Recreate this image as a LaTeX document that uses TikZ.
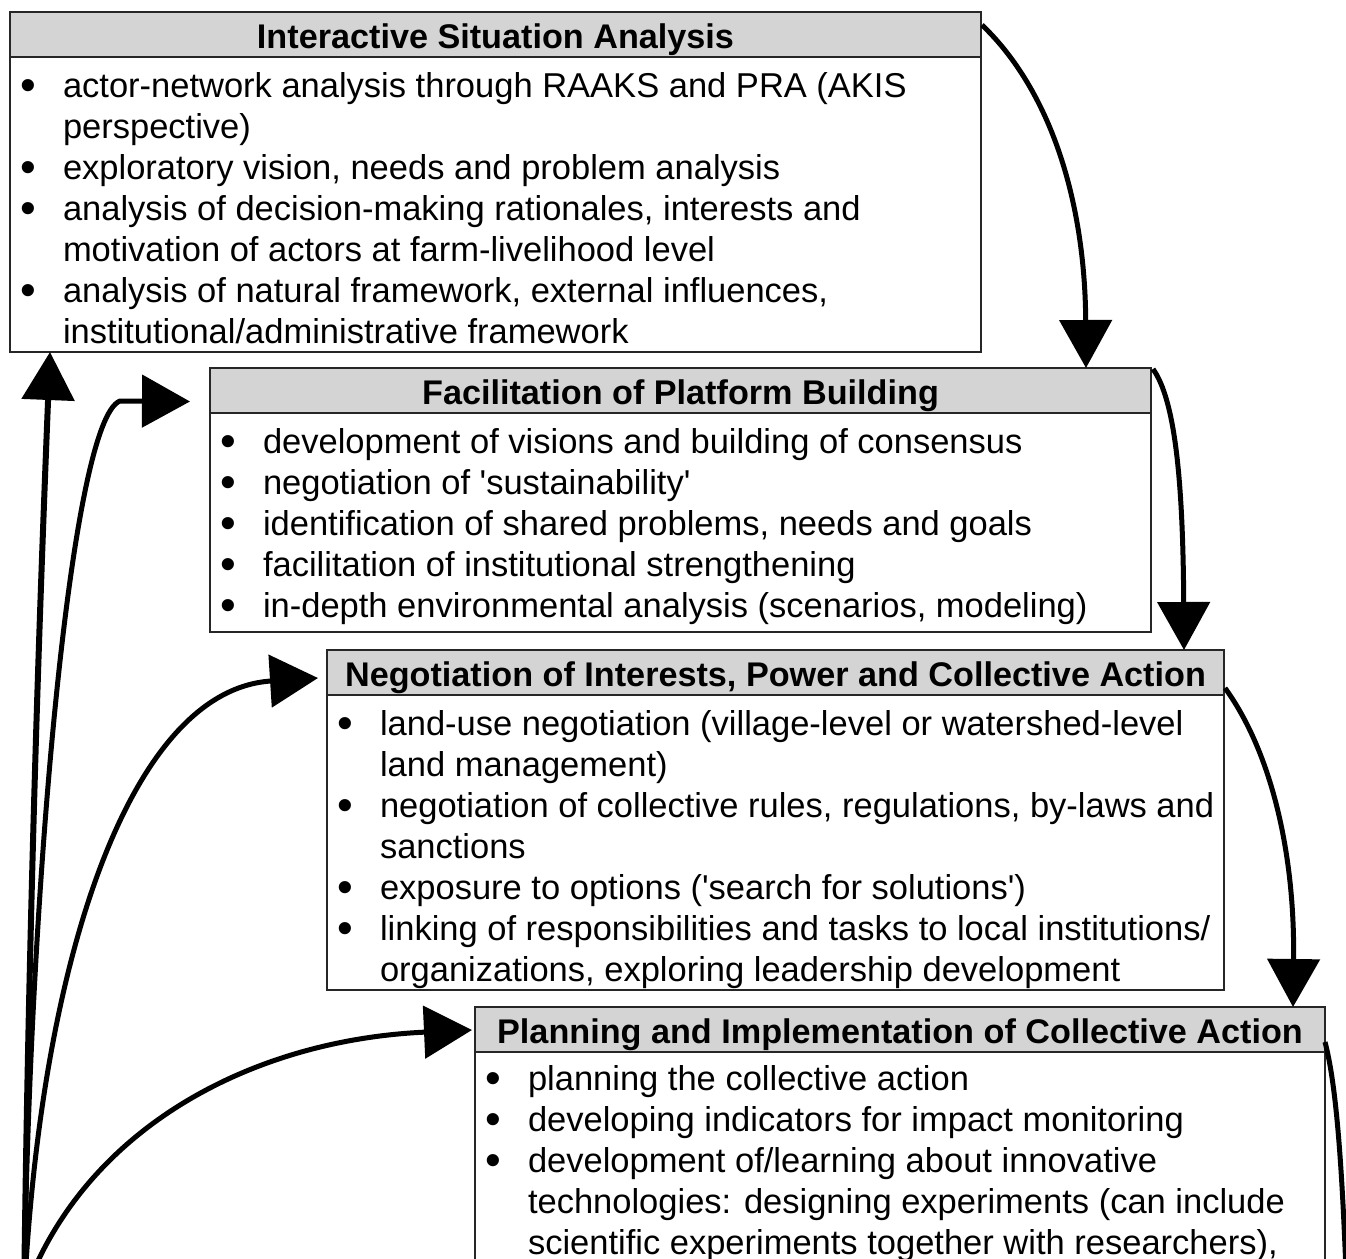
\documentclass[tikz,border=0pt]{standalone}
\usepackage{fontspec}
\newfontfamily\arial{Liberation Sans}
\usetikzlibrary{arrows.meta,calc}
\newcommand{\bodyfont}{\arial\fontsize{17.25pt}{20.5pt}\selectfont}
\newcommand{\headfont}{\arial\bfseries\fontsize{17.1pt}{20.5pt}\selectfont}
\newcommand{\bul}{\makebox[0pt][r]{\raisebox{-1.9pt}{\scalebox{1.3}{\textbullet}}\hspace{13.6pt}}}
\begin{document}
\begin{tikzpicture}[x=0.5pt,y=-0.5pt,
  boxbody/.style={draw=black!85, line width=1pt, fill=white, inner sep=0pt, outer sep=0pt},
  boxhead/.style={draw=black!85, line width=1pt, fill=black!17, inner sep=0pt, outer sep=0pt,
    minimum height=22.5pt, font=\headfont, text height=13.5pt, text depth=0pt},
  bodytext/.style={anchor=base west, inner sep=0pt, outer sep=0pt, font=\bodyfont},
  flow/.style={line width=2.5pt, -{Triangle[width=26pt,length=24pt]}},
]
\useasboundingbox (0,0) rectangle (1346,1259);
\fill[white] (0,0) rectangle (1346,1259);
\clip (0,0) rectangle (1346,1259);

% box 1
\node[boxbody, minimum width=485.5pt, minimum height=147.5pt] (b1) at (495.5,204.5) {};
\node[boxhead, minimum width=485.5pt] (h1) at (495.5,34.5) {Interactive Situation Analysis};
\node[bodytext] (t1) at (63,97) {\begin{tabular}[t]{@{}l@{}}
\bul actor-network analysis through RAAKS and PRA (AKIS\\
perspective)\\
\bul exploratory vision, needs and problem analysis\\
\bul analysis of decision-making rationales, interests and\\
motivation of actors at farm-livelihood level\\
\bul analysis of natural framework, external influences,\\
institutional/administrative framework
\end{tabular}};

% box 2
\node[boxbody, minimum width=470.5pt, minimum height=109.5pt] (b2) at (680.5,522.5) {};
\node[boxhead, minimum width=470.5pt] (h2) at (680.5,390.5) {Facilitation of Platform Building};
\node[bodytext] (t2) at (263,453) {\begin{tabular}[t]{@{}l@{}}
\bul development of visions and building of consensus\\
\bul negotiation of 'sustainability'\\
\bul identification of shared problems, needs and goals\\
\bul facilitation of institutional strengthening\\
\bul in-depth environmental analysis (scenarios, modeling)
\end{tabular}};

% box 3
\node[boxbody, minimum width=448.5pt, minimum height=147.5pt] (b3) at (775.5,842.5) {};
\node[boxhead, minimum width=448.5pt] (h3) at (775.5,672.5) {Negotiation of Interests, Power and Collective Action};
\node[bodytext] (t3) at (380,735) {\begin{tabular}[t]{@{}l@{}}
\bul land-use negotiation (village-level or watershed-level\\
land management)\\
\bul negotiation of collective rules, regulations, by-laws and\\
sanctions\\
\bul exposure to options ('search for solutions')\\
\bul linking of responsibilities and tasks to local institutions/\\
organizations, exploring leadership development
\end{tabular}};

% box 4
\node[boxbody, minimum width=425pt, minimum height=134pt] (b4) at (900,1186) {};
\node[boxhead, minimum width=425pt] (h4) at (900,1029.5) {Planning and Implementation of Collective Action};
\node[bodytext] (t4) at (528,1090) {\begin{tabular}[t]{@{}l@{}}
\bul planning the collective action\\
\bul developing indicators for impact monitoring\\
\bul development of/learning about innovative\\
technologies: designing experiments (can include\\
scientific experiments together with researchers),
\end{tabular}};

% forward arrows
\draw[flow] ($(h1.north east)+(1,13)$) .. controls (1050,90) and (1085,200) .. ($(h2.north west)+(876,0)$);
\draw[flow] ($(h2.north east)+(2,1)$) .. controls (1175,400) and (1183,480) .. ($(h3.north west)+(857,0)$);
\draw[flow] ($(h3.north east)+(1,38)$) .. controls (1270,750) and (1295,850) .. ($(h4.north west)+(818,0)$);
\coordinate (out4) at (1347,1300);
\draw[line width=2.5pt] ($(h4.north east)+(0,35)$) .. controls (1335,1080) and (1342,1150) .. (out4);

% feedback arrows
\coordinate (fb) at (24,1300);
\coordinate (fd) at (22,1300);
\draw[flow, line width=3pt] (fb) .. controls (29,900) and (40,600) .. ($(b1.south west)+(40,0)$);
\draw[flow] (fb) .. controls (29,900) and (70,420) .. (120,401) -- ($(h2.west)+(-20,11)$);
\draw[flow] (fb) .. controls (40,960) and (130,690) .. ($(h3.west)+(-9,5.5)$);
\draw[flow] (fd) .. controls (80,1130) and (250,1040) .. ($(h4.west)+(-3,0.5)$);
\end{tikzpicture}
\end{document}
